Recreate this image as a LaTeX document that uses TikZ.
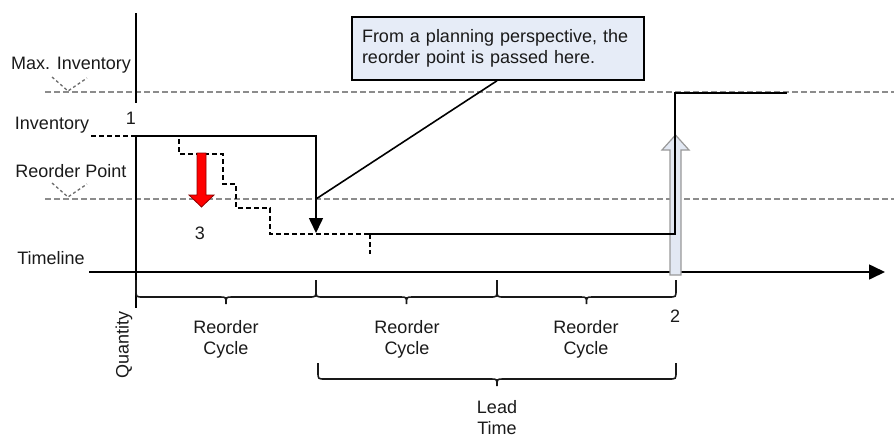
\documentclass[tikz,border=0pt]{standalone}
\usepackage{fontspec}
\setmainfont{Liberation Sans}
\usetikzlibrary{arrows.meta}
\definecolor{notefill}{HTML}{E6ECF7}
\definecolor{hollowfill}{HTML}{E2E8F3}
\definecolor{txt}{HTML}{1A1A1A}
\newcommand\mybrace[4]{%
  \draw[brc] (#1,#3) -- (#1,#4-7) .. controls (#1,#4) .. (#1+7,#4)
    -- ({(#1+#2)/2-6},#4) .. controls ({(#1+#2)/2},#4) .. ({(#1+#2)/2},#4+7)
    .. controls ({(#1+#2)/2},#4) .. ({(#1+#2)/2+6},#4)
    -- (#2-7,#4) .. controls (#2,#4) .. (#2,#4-7) -- (#2,#3);}
\begin{document}
\begin{tikzpicture}[x=1pt,y=-1pt,
  font=\fontsize{18}{21}\selectfont,
  lbl/.style={text=txt, inner sep=0pt},
  refline/.style={draw=gray!90, line width=2.2pt, dash pattern=on 6pt off 3pt},
  vmark/.style={draw=gray!85!black, line width=1.3pt, dash pattern=on 3pt off 2.5pt},
  stair/.style={draw=black, line width=1.3pt, dash pattern=on 5pt off 3pt},
  solidline/.style={draw=black, line width=1.6pt},
  brc/.style={draw=black!90, line width=1.6pt},
  notebox/.style={draw=black, line width=1.5pt, fill=notefill, text=txt,
    text width=272pt, align=left, inner xsep=10pt, inner ysep=0pt, minimum height=63pt}]
\useasboundingbox (0,0) rectangle (894,437);

% reference lines
\coordinate (maxL) at (45,92);   \coordinate (maxR) at (894,92);
\coordinate (ropL) at (45,199);  \coordinate (ropR) at (894,199);
\draw[refline] (maxL) -- (maxR);
\draw[refline] (ropL) -- (ropR);

% labels on the left
\node[lbl] (maxinv) at (71,65) {Max. Inventory};
\draw[vmark] (52,77) -- (68,91) -- (87,78);
\node[lbl] (inv) at (52,125) {Inventory};
\node[lbl] (rop) at (71,171) {Reorder Point};
\draw[vmark] (52,183) -- (68,197) -- (87,184);
\node[lbl] (tl) at (51,258) {Timeline};
\node[lbl] (one) at (131,118) {1};
\node[lbl] (three) at (200,233) {3};
\node[lbl] (two) at (675,316) {2};
\node[lbl, rotate=90] (qty) at (124,345) {Quantity};

% axes
\coordinate (axTop) at (136,13); \coordinate (axTopEnd) at (136,103);
\coordinate (axLow) at (136,136); \coordinate (axBot) at (136,308);
\draw[solidline] (axTop) -- (axTopEnd);
\draw[solidline] (axLow) -- (axBot);
\coordinate (tlL) at (89,272); \coordinate (tlR) at (885,272);
\draw[solidline, -{Triangle[length=16pt,width=15pt]}] (tlL) -- (tlR);

% inventory dashed lead-in
\coordinate (invD) at (91,136);
\draw[stair] (invD) -- (axLow);

% inventory line with drop arrow
\coordinate (dropTop) at (316,136); \coordinate (dropTip) at (316,233);
\draw[solidline, -{Triangle[length=15pt,width=14pt]}] (axLow) -- (dropTop) -- (dropTip);

% dashed staircase
\draw[stair] (179,139) -- (179,154) -- (223,154) -- (223,184) -- (236,184)
  -- (236,208) -- (270,208) -- (270,234) -- (368,234);
\draw[stair] (370,234) -- (370,254);

% red arrow
\draw[draw=red!55!black, fill=red, line width=0.8pt]
  (197,153) -- (206,153) -- (206,195) -- (214,195) -- (201.5,207)
  -- (189,195) -- (197,195) -- cycle;

% hollow light arrow
\draw[draw=gray!80, fill=hollowfill, line width=1.2pt]
  (670,275) -- (681,275) -- (681,150) -- (689,150) -- (675.5,135)
  -- (662,150) -- (670,150) -- cycle;

% replenishment line
\coordinate (repA) at (368,234); \coordinate (repB) at (675,234);
\coordinate (repC) at (675,93); \coordinate (repD) at (787,93);
\draw[solidline] (repA) -- (repB) -- (repC) -- (repD);

% note box and pointer
\node[notebox] (note) at (498,48.5) {From a planning perspective, the\\reorder point is passed here.};
\coordinate (ropHit) at (316,199);
\draw[solidline] (ropHit) -- (note.south -| 497,0);

% braces
\mybrace{136}{316}{280}{297}
\mybrace{316}{497}{280}{297}
\mybrace{497}{676}{280}{297}
\mybrace{318}{676}{363}{379}

\node[lbl, align=center] (rc1) at (226,339) {Reorder\\Cycle};
\node[lbl, align=center] (rc2) at (407,339) {Reorder\\Cycle};
\node[lbl, align=center] (rc3) at (586,339) {Reorder\\Cycle};
\node[lbl, align=center] (lead) at (497,418) {Lead\\Time};
\end{tikzpicture}
\end{document}
